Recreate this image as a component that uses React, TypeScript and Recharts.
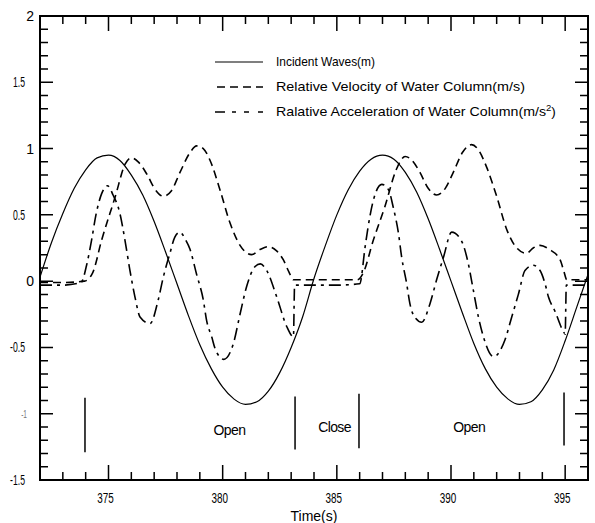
import React from 'react';
import { LineChart, Line, XAxis, YAxis, ReferenceLine, ReferenceDot } from 'recharts';

// ---------- data ----------
const incidentWave: [number, number][] = [
  [372, 0.03], [372.5, 0.29], [373, 0.51], [373.5, 0.7], [374, 0.84], [374.5, 0.93], [375, 0.95],
  [375.5, 0.91], [376, 0.8], [376.5, 0.65], [377, 0.45], [377.5, 0.22], [378, -0.02], [378.5, -0.26],
  [379, -0.48], [379.5, -0.66], [380, -0.8], [380.5, -0.89], [381, -0.93], [381.5, -0.91], [382, -0.83],
  [382.5, -0.69], [383, -0.5], [383.5, -0.27], [384, 0.02], [384.5, 0.27], [385, 0.5], [385.5, 0.69],
  [386, 0.83], [386.5, 0.92], [387, 0.95], [387.5, 0.92], [388, 0.82], [388.5, 0.67], [389, 0.47],
  [389.5, 0.24], [390, 0.0], [390.5, -0.24], [391, -0.47], [391.5, -0.66], [392, -0.8], [392.5, -0.89],
  [393, -0.93], [393.5, -0.91], [394, -0.82], [394.5, -0.67], [395, -0.45], [395.5, -0.2], [396, 0.05],
];

const relativeVelocity: [number, number][] = [
  [372, -0.01], [373, -0.01], [373.95, 0.0], [374.3, 0.06], [374.7, 0.31], [375.3, 0.64], [375.72, 0.88],
  [376.0, 0.93], [376.3, 0.9], [376.67, 0.81], [377.05, 0.69], [377.4, 0.64], [377.75, 0.68], [378.13, 0.82],
  [378.57, 0.97], [378.86, 1.02], [379.15, 1.0], [379.45, 0.91], [379.88, 0.69], [380.32, 0.44], [380.76, 0.27],
  [381.27, 0.2], [381.65, 0.24], [382.0, 0.26], [382.35, 0.23], [382.66, 0.16], [382.9, 0.07], [383.1, 0.01],
  [384, 0.01], [385, 0.01], [385.9, 0.01], [386.15, 0.06], [386.6, 0.31], [387.1, 0.56], [387.6, 0.84],
  [387.99, 0.94], [388.3, 0.91], [388.64, 0.82], [389.0, 0.7], [389.37, 0.65], [389.75, 0.7], [390.1, 0.82],
  [390.5, 0.97], [390.9, 1.03], [391.2, 0.99], [391.56, 0.86], [392.0, 0.64], [392.44, 0.39], [392.88, 0.25],
  [393.3, 0.21], [393.6, 0.25], [393.9, 0.27], [394.3, 0.24], [394.78, 0.16], [394.95, 0.07], [395.07, 0.01],
  [396, 0.01],
];

const relativeAcceleration: [number, number][] = [
  [372, -0.03], [373, -0.03], [373.8, -0.01], [374.04, 0.12], [374.26, 0.31], [374.45, 0.5], [374.7, 0.66],
  [374.95, 0.72], [375.2, 0.65], [375.5, 0.51], [375.72, 0.31], [375.94, 0.08], [376.16, -0.12], [376.38, -0.27],
  [376.82, -0.32], [377.18, -0.14], [377.4, 0.03], [377.69, 0.21], [377.9, 0.33], [378.13, 0.37], [378.35, 0.32],
  [378.57, 0.24], [378.86, 0.05], [379.15, -0.14], [379.3, -0.3], [379.52, -0.42], [379.67, -0.51], [380.05, -0.59],
  [380.47, -0.47], [380.76, -0.25], [381.05, -0.04], [381.42, 0.11], [381.65, 0.13], [381.93, 0.08],
  [382.37, -0.12], [382.8, -0.34], [383.1, -0.42], [383.15, -0.03], [384, -0.03], [385, -0.03], [386.0, -0.02],
  [386.24, 0.26], [386.37, 0.41], [386.6, 0.61], [386.97, 0.73], [387.26, 0.69], [387.48, 0.55], [387.7, 0.36],
  [387.84, 0.18], [388.06, -0.02], [388.2, -0.17], [388.45, -0.28], [388.72, -0.31], [389.08, -0.17],
  [389.37, 0.01], [389.67, 0.18], [390.03, 0.37], [390.47, 0.3], [390.76, 0.13], [390.98, -0.07], [391.2, -0.27],
  [391.42, -0.42], [391.86, -0.57], [392.37, -0.44], [392.66, -0.27], [392.95, -0.1], [393.24, 0.08],
  [393.6, 0.12], [393.9, 0.08], [394.12, -0.02], [394.27, -0.12], [394.56, -0.23], [394.92, -0.38],
  [395.0, -0.4], [395.05, -0.03], [396, -0.03],
];

// valve state markers: time, top value, bottom value
const valveMarks: [number, number, number][] = [
  [373.97, -0.88, -1.29], [383.17, -0.87, -1.27], [385.97, -0.85, -1.26], [394.95, -0.84, -1.24],
];
// valve state labels: text, time, value
const valveLabels: [string, number, number][] = [
  ['Open', 380.3, -1.12], ['Close', 384.9, -1.1], ['Open', 390.8, -1.1],
];

const legendLabels = [
  'Incident Waves(m)',
  'Relative Velocity of Water Column(m/s)',
  'Ralative Acceleration of Water Column(m/s',
];

const xDomain: [number, number] = [372, 396];
const yDomain: [number, number] = [-1.5, 2];
const xTicks = Array.from({ length: 25 }, (_, i) => 372 + i);
const xLabelTicks = [375, 380, 385, 390, 395];
const yTicks = Array.from({ length: 36 }, (_, i) => Math.round(i - 15) / 10);
const yLabelTicks = [-1.5, -1, -0.5, 0, 0.5, 1, 1.5, 2];

const toRows = (arr: [number, number][]) => arr.map(([t, v]) => ({ t, v }));

const FONT = '"Liberation Sans", Arial, sans-serif';

const isXMajor = (v: number) => xLabelTicks.includes(v);
const isYMajor = (v: number) => yLabelTicks.some((m) => Math.abs(m - v) < 1e-6);

// chart layout (same numbers feed the LineChart margins / axis sizes)
const CHART_W = 595;
const CHART_H = 523;
const MARGIN = { top: 16, right: 7, bottom: 0, left: 0 };
const Y_AXIS_W = 40;
const X_AXIS_H = 43;
const PLOT = {
  left: MARGIN.left + Y_AXIS_W,
  right: CHART_W - MARGIN.right,
  top: MARGIN.top,
  bottom: CHART_H - MARGIN.bottom - X_AXIS_H,
};
// linear scales matching the chart's number axes (used for the frame tick marks)
const sx = (v: number) => PLOT.left + ((v - xDomain[0]) / (xDomain[1] - xDomain[0])) * (PLOT.right - PLOT.left);
const sy = (v: number) => PLOT.bottom - ((v - yDomain[0]) / (yDomain[1] - yDomain[0])) * (PLOT.bottom - PLOT.top);

// ----- tick labels -----
const bottomLabel = (p: any) => {
  const v = p.payload.value;
  return (
    <text
      transform={`translate(${p.x - 3},${p.y + 23}) scale(0.66,1)`}
      textAnchor="middle"
      fontSize={15}
      fontFamily={FONT}
      fill="#000"
    >
      {isXMajor(v) ? String(v) : ''}
    </text>
  );
};

const leftLabel = (p: any) => {
  const v = p.payload.value;
  const txt = isYMajor(v) ? String(v) : '';
  if (Number.isInteger(v) && v !== -1) {
    return (
      <text x={34} y={p.y + 5} textAnchor="end" fontSize={14} fontFamily={FONT} fill="#000">
        {txt}
      </text>
    );
  }
  if (v === -1) {
    return (
      <text transform={`translate(27,${p.y + 4}) scale(0.6,1)`} textAnchor="end" fontSize={11} fontFamily={FONT} fill="#777">
        {txt}
      </text>
    );
  }
  return (
    <text transform={`translate(25,${p.y + 5}) scale(0.62,1)`} textAnchor="end" fontSize={14} fontFamily={FONT} fill="#000">
      {txt}
    </text>
  );
};

const DASH_VEL = '8 5';
const DASH_ACC = '12 5 3 5';

function FrameAndTicks() {
  const parts: string[] = [];
  xTicks.forEach((v) => {
    const x = sx(v);
    const len = isXMajor(v) ? 15 : 8;
    parts.push(`M${x},${PLOT.bottom}L${x},${PLOT.bottom - len}`);
    parts.push(`M${x},${PLOT.top}L${x},${PLOT.top + len}`);
  });
  yTicks.forEach((v) => {
    const y = sy(v);
    const len = isYMajor(v) ? 13 : 8;
    parts.push(`M${PLOT.left},${y}L${PLOT.left + len},${y}`);
    parts.push(`M${PLOT.right},${y}L${PLOT.right - len},${y}`);
  });
  return (
    <g>
      <path d={parts.join('')} stroke="#000" strokeWidth={1.5} fill="none" />
      <rect
        x={PLOT.left}
        y={PLOT.top}
        width={PLOT.right - PLOT.left}
        height={PLOT.bottom - PLOT.top}
        stroke="#000"
        strokeWidth={2}
        fill="none"
      />
    </g>
  );
}

export default function App() {
  return (
    <div style={{ position: 'absolute', left: 0, top: 0, width: CHART_W, height: CHART_H, background: '#fff' }}>
      <div style={{ position: 'relative', width: CHART_W, height: CHART_H }}>
        <LineChart width={CHART_W} height={CHART_H} margin={MARGIN}>
          <XAxis
            xAxisId="b"
            dataKey="t"
            type="number"
            domain={xDomain}
            ticks={xTicks}
            interval={0}
            tickSize={0}
            tickMargin={0}
            tickLine={false}
            axisLine={false}
            tick={bottomLabel}
            height={X_AXIS_H}
            label={{ value: 'Time(s)', position: 'insideBottom', offset: 2, fontSize: 14, fontFamily: FONT, fill: '#000' }}
          />
          <YAxis
            yAxisId="l"
            type="number"
            domain={yDomain}
            ticks={yTicks}
            interval={0}
            tickSize={0}
            tickMargin={0}
            tickLine={false}
            axisLine={false}
            tick={leftLabel}
            width={Y_AXIS_W}
          />
          <Line xAxisId="b" yAxisId="l" data={toRows(incidentWave)} dataKey="v" type="monotone" stroke="#000" strokeWidth={1.2} dot={false} isAnimationActive={false} />
          <Line xAxisId="b" yAxisId="l" data={toRows(relativeVelocity)} dataKey="v" type="monotone" stroke="#000" strokeWidth={1.6} strokeDasharray={DASH_VEL} dot={false} isAnimationActive={false} />
          <Line xAxisId="b" yAxisId="l" data={toRows(relativeAcceleration)} dataKey="v" type="monotone" stroke="#000" strokeWidth={1.6} strokeDasharray={DASH_ACC} dot={false} isAnimationActive={false} />
          {valveMarks.map(([t, ya, yb], i) => (
            <ReferenceLine key={'m' + i} xAxisId="b" yAxisId="l" segment={[{ x: t, y: ya }, { x: t, y: yb }]} stroke="#000" strokeWidth={1.5} />
          ))}
          {valveLabels.map(([text, t, v], i) => (
            <ReferenceDot
              key={'l' + i}
              xAxisId="b"
              yAxisId="l"
              x={t}
              y={v}
              r={0}
              fill="none"
              stroke="none"
              label={{ value: text, position: 'center', fontSize: 14, fontFamily: FONT, fill: '#000', letterSpacing: -0.6 }}
            />
          ))}
        </LineChart>
        <svg width={CHART_W} height={CHART_H} style={{ position: 'absolute', left: 0, top: 0, pointerEvents: 'none' }}>
          <FrameAndTicks />
          <line x1={215} x2={263} y1={62} y2={62} stroke="#000" strokeWidth={1.2} />
          <line x1={217} x2={263} y1={87} y2={87} stroke="#000" strokeWidth={1.6} strokeDasharray={DASH_VEL} />
          <line x1={215} x2={263} y1={112} y2={112} stroke="#000" strokeWidth={1.6} strokeDasharray="10 7 4 8 5 9" />
          <g fontFamily={FONT} fontSize={13.5} fill="#000">
            <text x={276} y={66} textLength={99} lengthAdjust="spacingAndGlyphs">{legendLabels[0]}</text>
            <text x={276} y={91} textLength={249} lengthAdjust="spacingAndGlyphs">{legendLabels[1]}</text>
            <text x={276} y={116} textLength={270} lengthAdjust="spacingAndGlyphs">{legendLabels[2]}</text>
            <text x={546} y={116}>
              <tspan dy={-5} fontSize={9.5}>2</tspan>
              <tspan dy={5}>)</tspan>
            </text>
          </g>
        </svg>
      </div>
    </div>
  );
}
